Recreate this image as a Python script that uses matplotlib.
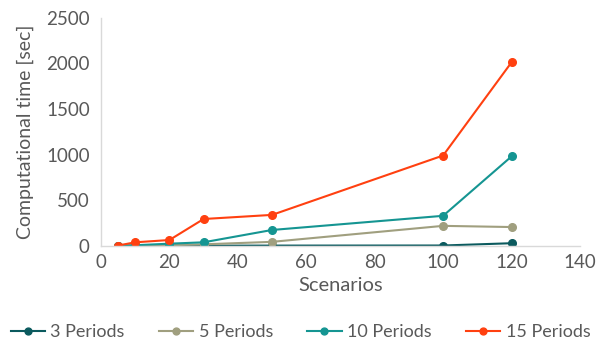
import matplotlib
matplotlib.use("Agg")
import matplotlib.pyplot as plt

scenarios = [5, 10, 20, 30, 50, 100, 120]
periods_3 = [1, 1, 2, 3, 4, 5, 30]
periods_5 = [2, 3, 8, 18, 45, 220, 207]
periods_10 = [3, 8, 25, 40, 175, 330, 980]
periods_15 = [5, 40, 65, 295, 340, 990, 2010]

series = [
    ("3 Periods", periods_3, "#0B5A5E"),
    ("5 Periods", periods_5, "#A09F7F"),
    ("10 Periods", periods_10, "#159592"),
    ("15 Periods", periods_15, "#FF4010"),
]

plt.rcParams["font.family"] = ["Lato", "DejaVu Sans"]
text_color = "#595959"

fig = plt.figure(figsize=(6.01, 3.44), dpi=100)
ax = fig.add_axes([0.168, 0.285, 0.797, 0.664])

for label, vals, color in series:
    ax.plot(scenarios, vals, color=color, lw=1.5, marker="o", markersize=5.5,
            label=label)

ax.set_xlim(0, 140)
ax.set_ylim(0, 2500)
ax.set_xticks(range(0, 141, 20))
ax.set_yticks(range(0, 2501, 500))

for side in ("top", "right"):
    ax.spines[side].set_visible(False)
for side in ("left", "bottom"):
    ax.spines[side].set_color("#D9D9D9")
    ax.spines[side].set_linewidth(1.0)
ax.tick_params(axis="both", length=0, labelsize=13.5, colors=text_color)
ax.tick_params(axis="y", pad=8)
ax.tick_params(axis="x", pad=6)

ax.set_xlabel("Scenarios", fontsize=14.5, color=text_color, labelpad=4)
ax.set_ylabel("Computational time [sec]", fontsize=14, color=text_color, labelpad=9)

fig.legend(loc="center", bbox_to_anchor=(0.5, 0.035), ncol=4, frameon=False,
           fontsize=13, labelcolor=text_color, handlelength=1.9,
           handletextpad=0.3, columnspacing=1.9, markerscale=0.9)

fig.savefig("out.png", dpi=100)
